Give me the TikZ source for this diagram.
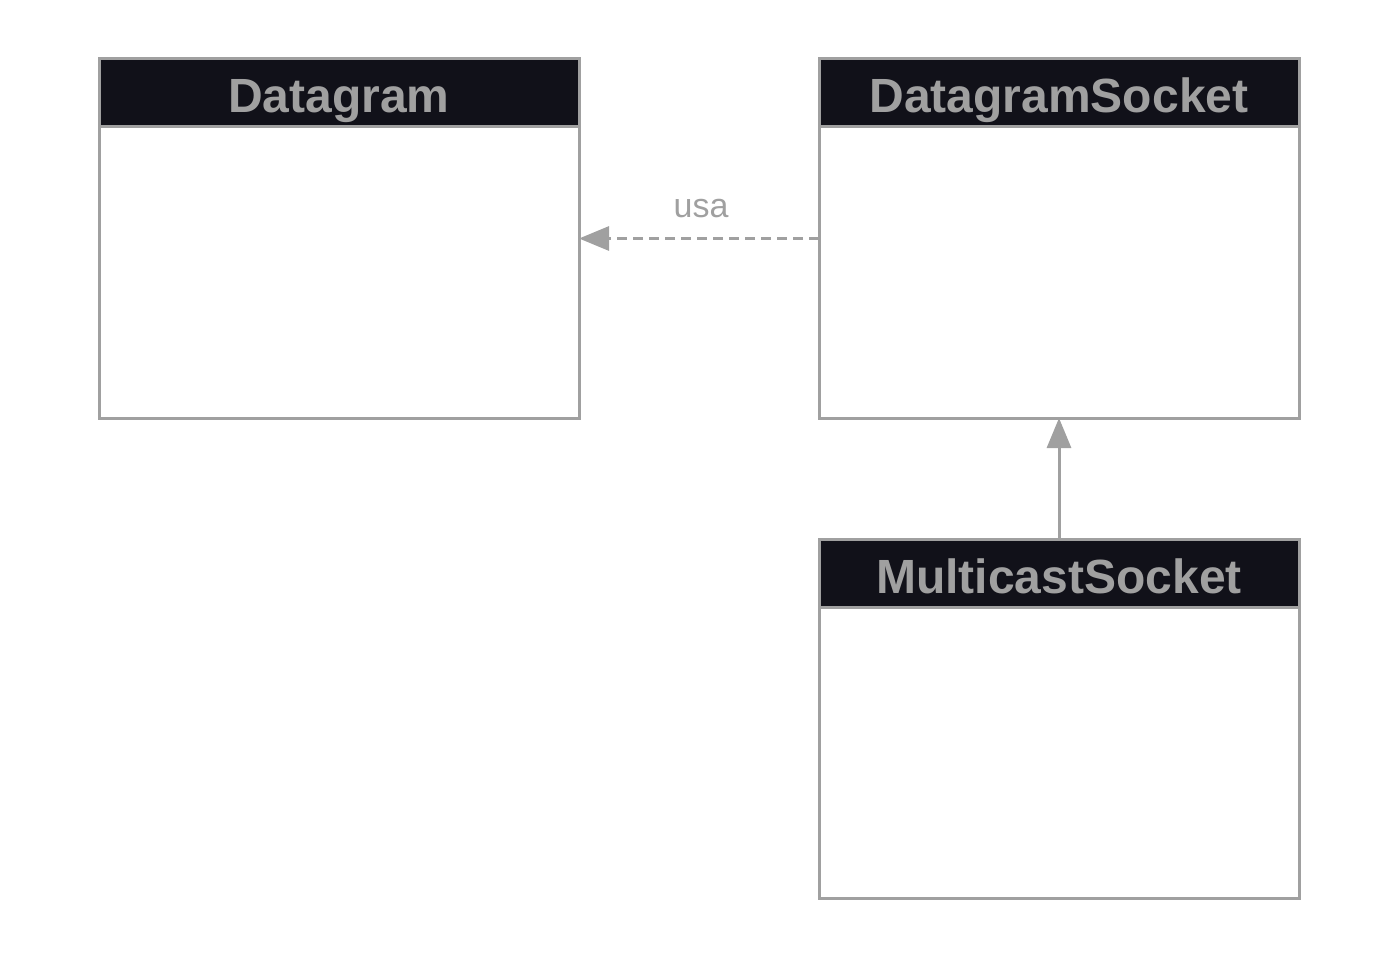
\documentclass[tikz,border=0pt]{standalone}
\usepackage{fontspec}
\setmainfont{Liberation Sans}
\usetikzlibrary{fit}
\usetikzlibrary{arrows.meta}
\definecolor{edgegray}{HTML}{A0A0A0}
\definecolor{headdark}{HTML}{111119}
\tikzset{
	headstyle/.style={rectangle, draw=edgegray, fill=headdark, line width=3pt,
		minimum width=480, minimum height=68, inner sep=0pt, outer sep=0pt,
		text height=40pt, text depth=0pt,
		text=edgegray, font=\fontsize{48}{52}\selectfont\bfseries},
	bodystyle/.style={rectangle, draw=edgegray, fill=white, line width=3pt,
		minimum width=480, minimum height=291, inner sep=0pt, outer sep=0pt},
	classfit/.style={inner sep=0pt, outer sep=0pt, fill=none, draw=none},
	usearrow/.style={draw=edgegray, line width=3pt,
		-{Triangle[length=30pt, width=24pt, fill=edgegray]}}
}

\begin{document}
\begin{tikzpicture}[x=1pt, y=-1pt]

\useasboundingbox (0, 0) rectangle (1400, 960);

\def\xleft{339}
\def\xright{1059}

\node[headstyle] (h1) at (\xleft, 93)  {Datagram};
\node[bodystyle, anchor=north] (b1) at (h1.south) {};
\node[headstyle] (h2) at (\xright, 93) {DatagramSocket};
\node[bodystyle, anchor=north] (b2) at (h2.south) {};
\node[headstyle] (h3) at (\xright, 573) {MulticastSocket};
\node[bodystyle, anchor=north] (b3) at (h3.south) {};

\node[classfit, fit=(h1)(b1)] (dgram) {};
\node[classfit, fit=(h2)(b2)] (dsock) {};
\node[classfit, fit=(h3)(b3)] (msock) {};

\draw[usearrow, dash pattern=on 10pt off 6pt] (dsock) -- node[above=19pt, inner sep=0pt, text depth=0pt, xshift=2pt, text=edgegray, font=\fontsize{34}{38}\selectfont] {usa} (dgram);
\draw[usearrow] (msock) -- (dsock);
\end{tikzpicture}
\end{document}
